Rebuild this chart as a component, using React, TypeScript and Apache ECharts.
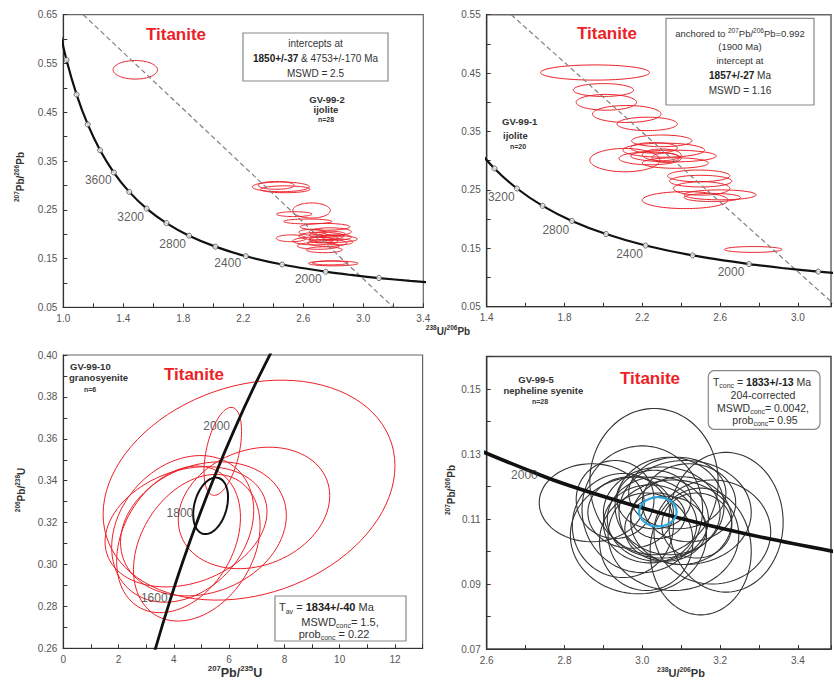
import { useEffect, useRef } from 'react';
import * as echarts from 'echarts';

const FONT = '"Liberation Sans", Arial, Helvetica, sans-serif';
const RED = '#ec1f27';
const INK = '#333';

// Tera-Wasserburg concordia (238U/206Pb vs 207Pb/206Pb), ordered by 238U/206Pb
const twAges = [4600, 4400, 4200, 4000, 3800, 3600, 3400, 3200, 3000, 2800, 2600, 2400, 2200, 2000, 1900, 1800, 1700, 1600];
const twX = [0.9603, 1.0214, 1.0887, 1.163, 1.2453, 1.337, 1.4398, 1.5556, 1.6875, 1.8384, 2.0136, 2.217, 2.4587, 2.749, 2.9174, 3.1045, 3.314, 3.5496];
const twY = [0.6393, 0.5572, 0.4863, 0.425, 0.3721, 0.3264, 0.2867, 0.2524, 0.2227, 0.1968, 0.1744, 0.1548, 0.1378, 0.123, 0.1163, 0.11, 0.1042, 0.0987];
// ages shown as open circles on the curve
const twMarkedAges = [4400, 4200, 4000, 3800, 3600, 3400, 3200, 3000, 2800, 2600, 2400, 2200, 2000, 1800];

// Wetherill concordia (207Pb/235U vs 206Pb/238U)
const wX = [2.97, 3.3813, 3.8346, 4.3348, 4.8868, 5.4963, 6.169, 6.9106, 7.7294];
const wY = [0.2426, 0.262, 0.2817, 0.3018, 0.3221, 0.3428, 0.3638, 0.3851, 0.4067];

// age labels: [x, y, text]
const ageLabels1: [number, number, string][] = [[1.233, 0.311, '3600'], [1.449, 0.235, '3200'], [1.729, 0.179, '2800'], [2.096, 0.14, '2400'], [2.633, 0.109, '2000']];
const ageLabels2: [number, number, string][] = [[1.475, 0.238, '3200'], [1.755, 0.182, '2800'], [2.134, 0.141, '2400'], [2.656, 0.109, '2000']];
const ageLabels3: [number, number, string][] = [[5.55, 0.366, '2000'], [4.22, 0.3247, '1800'], [3.29, 0.284, '1600']];
const ageLabels4: [number, number, string][] = [[2.697, 0.1235, '2000']];

// discordia lines (end points)
const discordia1 = [[1.133, 0.65], [3.2, 0.05]];
const discordia2 = [[1.526, 0.55], [3.2, 0.05]];

// error ellipses: [cx, cy, sx, sy, rho]
const ellipses1 = [
  [1.48, 0.537, 0.148, 0.019, 0],
  [2.45, 0.297, 0.19, 0.01, 0],
  [2.42, 0.3, 0.12, 0.008, 0],
  [2.48, 0.292, 0.165, 0.007, 0],
  [2.655, 0.2485, 0.125, 0.0155, 0],
  [2.54, 0.241, 0.118, 0.005, 0],
  [2.63, 0.226, 0.16, 0.005, 0],
  [2.745, 0.215, 0.165, 0.007, 0],
  [2.78, 0.205, 0.14, 0.008, 0],
  [2.52, 0.1915, 0.1, 0.007, 0],
  [2.72, 0.196, 0.15, 0.008, 0],
  [2.8, 0.19, 0.16, 0.007, 0],
  [2.68, 0.186, 0.15, 0.008, 0],
  [2.76, 0.182, 0.13, 0.007, 0],
  [2.7, 0.176, 0.14, 0.007, 0],
  [2.74, 0.168, 0.12, 0.006, 0],
  [2.78, 0.2, 0.1, 0.006, 0],
  [2.82, 0.194, 0.1, 0.006, 0],
  [2.66, 0.204, 0.09, 0.006, 0],
  [2.76, 0.192, 0.07, 0.005, 0],
  [2.72, 0.188, 0.08, 0.006, 0],
  [2.84, 0.184, 0.09, 0.006, 0],
  [2.7, 0.198, 0.06, 0.005, 0],
  [2.8, 0.14, 0.165, 0.005, 0],
  [2.78, 0.141, 0.12, 0.004, 0],
];
const ellipses2 = [
  [1.957, 0.451, 0.28, 0.013, 0],
  [2.0, 0.421, 0.155, 0.011, 0],
  [2.015, 0.4, 0.155, 0.0135, 0],
  [2.12, 0.38, 0.176, 0.0145, 0],
  [2.225, 0.363, 0.155, 0.0115, 0],
  [2.3, 0.334, 0.155, 0.01, 0],
  [2.11, 0.301, 0.18, 0.02, 0],
  [2.31, 0.318, 0.21, 0.012, 0],
  [2.24, 0.304, 0.16, 0.011, 0],
  [2.36, 0.308, 0.22, 0.01, 0],
  [2.37, 0.296, 0.17, 0.009, 0],
  [2.3, 0.31, 0.1, 0.01, 0],
  [2.32, 0.305, 0.07, 0.008, 0],
  [2.26, 0.322, 0.12, 0.009, 0],
  [2.49, 0.274, 0.16, 0.01, 0],
  [2.5, 0.265, 0.16, 0.01, 0],
  [2.505, 0.2525, 0.145, 0.0115, 0],
  [2.6, 0.2415, 0.185, 0.0085, 0],
  [2.56, 0.237, 0.145, 0.007, 0],
  [2.42, 0.2325, 0.22, 0.0145, 0],
  [2.77, 0.148, 0.148, 0.005, 0],
];
const ellipses3 = [
  [6.72, 0.3355, 5.28, 0.0525, 0.22],
  [5.77, 0.354, 0.68, 0.021, 0.45],
  [6.9, 0.327, 2.74, 0.029, 0.2],
  [4.44, 0.318, 2.93, 0.0287, 0.25],
  [4.32, 0.317, 2.57, 0.035, 0.25],
  [4.17, 0.312, 2.24, 0.035, 0.3],
  [4.83, 0.308, 2.29, 0.035, 0.3],
  [5.07, 0.317, 3.0, 0.032, 0.2],
];
const concordiaAge3 = [[5.33, 0.328, 0.63, 0.0135, 0.3]];
const ellipses4 = [
  [3.03, 0.1215, 0.165, 0.0225, 0],
  [2.87, 0.115, 0.135, 0.012, 0],
  [3.215, 0.109, 0.147, 0.0215, 0],
  [2.99, 0.105, 0.175, 0.018, 0],
  [3.15, 0.1, 0.13, 0.0195, 0],
  [3.08, 0.105, 0.168, 0.017, 0],
  [3.0, 0.113, 0.155, 0.0195, 0],
  [3.05, 0.112, 0.15, 0.014, 0],
  [3.04, 0.11, 0.13, 0.013, 0],
  [3.07, 0.114, 0.14, 0.015, 0],
  [3.02, 0.1085, 0.12, 0.012, 0],
  [3.1, 0.1095, 0.13, 0.0135, 0],
  [2.97, 0.112, 0.11, 0.011, 0],
  [3.06, 0.107, 0.105, 0.01, 0],
  [3.12, 0.115, 0.12, 0.012, 0],
  [3.03, 0.116, 0.095, 0.009, 0],
  [2.95, 0.108, 0.13, 0.016, 0],
  [3.18, 0.106, 0.15, 0.016, 0],
  [3.09, 0.118, 0.125, 0.011, 0],
  [3.01, 0.103, 0.12, 0.015, 0],
  [3.11, 0.112, 0.17, 0.016, 0],
  [3.04, 0.111, 0.07, 0.007, 0],
  [2.93, 0.116, 0.1, 0.012, 0],
  [3.14, 0.108, 0.09, 0.01, 0],
];
const concordiaAge4 = [[3.04, 0.1122, 0.048, 0.0045, 0]];

// tick labels
const xTicks1 = [1.0, 1.4, 1.8, 2.2, 2.6, 3.0, 3.4];
const yTicks1 = [0.05, 0.15, 0.25, 0.35, 0.45, 0.55, 0.65];
const xTicks2 = [1.4, 1.8, 2.2, 2.6, 3.0];
const yTicks2 = [0.05, 0.15, 0.25, 0.35, 0.45, 0.55];
const xTicks3 = [0, 2, 4, 6, 8, 10, 12];
const yTicks3 = [0.26, 0.28, 0.3, 0.32, 0.34, 0.36, 0.38, 0.4];
const xTicks4 = [2.6, 2.8, 3.0, 3.2, 3.4];
const yTicks4 = [0.07, 0.09, 0.11, 0.13, 0.15];

const twLine = twX.map((x, i) => [x, twY[i]]);
const twMarks = twAges.map((a, i) => [twX[i], twY[i], a]).filter((p) => twMarkedAges.includes(p[2] as number));
const wLine = wX.map((x, i) => [x, wY[i]]);

function axis(gi: number, min: number, max: number, interval: number, labels: number[], dec: number) {
  return {
    type: 'value',
    gridIndex: gi,
    min,
    max,
    interval,
    axisLine: { show: true, onZero: false, lineStyle: { color: '#333', width: 1.2 } },
    axisTick: { show: true, inside: true, length: 4, lineStyle: { color: '#333' } },
    splitLine: { show: false },
    axisLabel: {
      fontSize: 10,
      color: '#555',
      fontFamily: FONT,
      margin: 6,
      formatter: (v: number) => (labels.some((l) => Math.abs(l - v) < 1e-6) ? v.toFixed(dec) : ''),
    },
  };
}

function ellipseSeries(gi: number, data: number[][], color: string, width: number, z: number) {
  return {
    type: 'custom',
    coordinateSystem: 'cartesian2d',
    xAxisIndex: gi,
    yAxisIndex: gi,
    clip: true,
    silent: true,
    z,
    data,
    encode: { x: 0, y: 1 },
    renderItem: (_p: any, api: any) => {
      const cx = api.value(0), cy = api.value(1), sx = api.value(2), sy = api.value(3), r = api.value(4) || 0;
      const k = Math.sqrt(1 - r * r);
      const pts: number[][] = [];
      for (let i = 0; i < 90; i++) {
        const t = (i / 90) * Math.PI * 2;
        pts.push(api.coord([cx + sx * Math.cos(t), cy + sy * (r * Math.cos(t) + k * Math.sin(t))]));
      }
      return { type: 'polygon', shape: { points: pts }, style: { fill: 'none', stroke: color, lineWidth: width } };
    },
  };
}

function curve(gi: number, data: number[][], width: number) {
  return {
    type: 'line', xAxisIndex: gi, yAxisIndex: gi, data, smooth: 0.3, showSymbol: false, silent: true, z: 5,
    lineStyle: { color: '#111', width }, clip: true,
  };
}

function dashed(gi: number, data: number[][]) {
  return {
    type: 'line', xAxisIndex: gi, yAxisIndex: gi, data, showSymbol: false, silent: true, z: 4,
    lineStyle: { color: '#808080', width: 1.2, type: [5, 3] }, clip: true,
  };
}

function marks(gi: number) {
  return {
    type: 'scatter', xAxisIndex: gi, yAxisIndex: gi, data: twMarks, symbol: 'circle', symbolSize: 5, silent: true, z: 6,
    itemStyle: { color: '#fff', borderColor: '#444', borderWidth: 1 }, clip: true,
  };
}

function labels(gi: number, data: [number, number, string][]) {
  return {
    type: 'scatter', xAxisIndex: gi, yAxisIndex: gi, data, symbolSize: 1, silent: true, z: 7,
    itemStyle: { color: 'rgba(0,0,0,0)' },
    label: { show: true, position: 'inside', formatter: (p: any) => p.value[2], color: '#333', fontSize: 12, fontFamily: FONT },
  };
}

type TOpts = { size?: number; bold?: boolean; color?: string; align?: string; rot?: number; rich?: any };
function txt(x: number, y: number, text: string, o: TOpts = {}) {
  return {
    type: 'text', x, y, z: 100, silent: true, rotation: o.rot ?? 0,
    style: {
      text, fontFamily: FONT, fontSize: o.size ?? 10, fontWeight: o.bold ? 'bold' : 'normal',
      fill: o.color ?? INK, align: o.align ?? 'center', verticalAlign: 'middle', rich: o.rich,
    },
  };
}
function box(x: number, y: number, w: number, h: number, r = 0) {
  return { type: 'rect', z: 90, silent: true, shape: { x, y, width: w, height: h, r }, style: { fill: '#fff', stroke: '#888', lineWidth: 1.2 } };
}

// rich styles: n = normal, b = bold, s = subscript, u = superscript
const rich = (size: number, boldAll = false) => ({
  n: { fontFamily: FONT, fontSize: size, fontWeight: boldAll ? 'bold' : 'normal', fill: INK, lineHeight: size + 4 },
  b: { fontFamily: FONT, fontSize: size, fontWeight: 'bold', fill: '#222', lineHeight: size + 4 },
  s: { fontFamily: FONT, fontSize: 7, fill: INK, lineHeight: size + 4, verticalAlign: 'bottom' },
  u: { fontFamily: FONT, fontSize: Math.max(6.5, size * 0.62), fontWeight: boldAll ? 'bold' : 'normal', fill: INK, lineHeight: size + 4, verticalAlign: 'top' },
});
const ratio = (a: string, b: string, c: string, d: string) => `{u|${a}}{n|${b}/}{u|${c}}{n|${d}}`;

export default function App() {
  const ref = useRef<HTMLDivElement>(null);
  useEffect(() => {
    if (!ref.current) return;
    const chart = echarts.init(ref.current, undefined, { renderer: 'svg' });
    const option: any = {
      animation: false,
      backgroundColor: '#fff',
      textStyle: { fontFamily: FONT },
      grid: [
        { left: 63.3, top: 14.7, width: 360, height: 292.6, show: true, borderColor: '#666', borderWidth: 1.2 },
        { left: 486.7, top: 14.7, width: 352.3, height: 292, show: true, borderColor: '#666', borderWidth: 1.5 },
        { left: 63.3, top: 355, width: 359.3, height: 293.3, show: true, borderColor: '#666', borderWidth: 1.2 },
        { left: 486.7, top: 356.5, width: 352.3, height: 292.5, show: true, borderColor: '#444', borderWidth: 1.5 },
      ],
      xAxis: [
        axis(0, 1.0, 3.4, 0.2, xTicks1, 1),
        axis(1, 1.4, 3.17, 0.2, xTicks2, 1),
        axis(2, 0, 13, 1, xTicks3, 0),
        axis(3, 2.6, 3.485, 0.1, xTicks4, 1),
      ],
      yAxis: [
        axis(0, 0.05, 0.65, 0.05, yTicks1, 2),
        axis(1, 0.05, 0.55, 0.05, yTicks2, 2),
        axis(2, 0.26, 0.4, 0.01, yTicks3, 2),
        axis(3, 0.07, 0.16, 0.01, yTicks4, 2),
      ],
      series: [
        ellipseSeries(0, ellipses1, RED, 1, 2),
        dashed(0, discordia1),
        curve(0, twLine, 2.2),
        marks(0),
        labels(0, ageLabels1),

        ellipseSeries(1, ellipses2, RED, 1, 2),
        dashed(1, discordia2),
        curve(1, twLine, 2.2),
        marks(1),
        labels(1, ageLabels2),

        ellipseSeries(2, ellipses3, RED, 1, 2),
        curve(2, wLine, 2.8),
        ellipseSeries(2, concordiaAge3, '#111', 2, 6),
        labels(2, ageLabels3),

        ellipseSeries(3, ellipses4, '#333', 1.1, 2),
        curve(3, twLine, 3.6),
        ellipseSeries(3, concordiaAge4, '#2aa7df', 2.2, 8),
        labels(3, ageLabels4),
      ],
      graphic: [
        // top-left panel
        txt(176, 34, 'Titanite', { size: 17, bold: true, color: RED }),
        box(243, 33, 145, 48),
        txt(315.5, 43, 'intercepts at', { size: 10 }),
        txt(315.5, 58, '{b|1850+/-37}{n| & 4753+/-170 Ma}', { rich: rich(10) }),
        txt(315.5, 73, 'MSWD = 2.5', { size: 10 }),
        txt(327, 99, 'GV-99-2', { size: 9.5, bold: true }),
        txt(326, 109.5, 'ijolite', { size: 9.5, bold: true }),
        txt(326, 119.5, 'n=28', { size: 7, bold: true }),
        txt(20, 177, ratio('207', 'Pb', '206', 'Pb'), { rot: Math.PI / 2, rich: rich(10, true) }),
        txt(448, 331, ratio('238', 'U', '206', 'Pb'), { rich: rich(10, true) }),

        // top-right panel
        txt(607, 33, 'Titanite', { size: 17, bold: true, color: RED }),
        box(666, 18.3, 148, 86.7),
        txt(740, 33.5, `{n|anchored to }${ratio('207', 'Pb', '206', 'Pb=0.992')}`, { rich: rich(9.5) }),
        txt(740, 46.7, '(1900 Ma)', { size: 9.5 }),
        txt(740, 60, 'intercept at', { size: 9.5 }),
        txt(740, 75, '{b|1857+/-27}{n| Ma}', { rich: rich(10) }),
        txt(740, 90, 'MSWD = 1.16', { size: 10 }),
        txt(502, 121.7, 'GV-99-1', { size: 9.5, bold: true, align: 'left' }),
        txt(503, 135, 'ijolite', { size: 9.5, bold: true, align: 'left' }),
        txt(510, 146.7, 'n=20', { size: 7, bold: true, align: 'left' }),

        // bottom-left panel
        txt(194, 374, 'Titanite', { size: 17, bold: true, color: RED }),
        txt(70, 366.7, 'GV-99-10', { size: 9.5, bold: true, align: 'left' }),
        txt(69, 377.5, 'granosyenite', { size: 9.5, bold: true, align: 'left' }),
        txt(84, 389, 'n=6', { size: 7, bold: true, align: 'left' }),
        box(275, 596, 131, 45),
        txt(279, 607, '{n|T}{s|av}{n| = }{b|1834+/-40}{n| Ma}', { align: 'left', rich: rich(11) }),
        txt(340, 621.5, '{n|MSWD}{s|conc}{n|= 1.5,}', { rich: rich(11) }),
        txt(334, 633.5, '{n|prob}{s|conc}{n| = 0.22}', { rich: rich(11) }),
        txt(21, 490, ratio('206', 'Pb', '238', 'U'), { rot: Math.PI / 2, rich: rich(10, true) }),
        txt(235, 673, ratio('207', 'Pb', '235', 'U'), { rich: rich(12.5, true) }),

        // bottom-right panel
        txt(650, 378, 'Titanite', { size: 17, bold: true, color: RED }),
        txt(536, 379.3, 'GV-99-5', { size: 9.5, bold: true }),
        txt(543.3, 390.7, 'nepheline syenite', { size: 9.5, bold: true }),
        txt(540, 401.7, 'n=28', { size: 7, bold: true }),
        box(708.3, 370.7, 111.7, 58.6, 6),
        txt(762, 381.7, '{n|T}{s|conc}{n| = }{b|1833+/-13}{n| Ma}', { rich: rich(10.5) }),
        txt(763, 395, '204-corrected', { size: 10.5 }),
        txt(763, 407.5, '{n|MSWD}{s|conc}{n|= 0.0042,}', { rich: rich(10.5) }),
        txt(765, 420, '{n|prob}{s|conc}{n|= 0.95}', { rich: rich(10.5) }),
        txt(451, 490, ratio('207', 'Pb', '206', 'Pb'), { rot: Math.PI / 2, rich: rich(10, true) }),
        txt(681, 673, ratio('238', 'U', '206', 'Pb'), { rich: rich(11, true) }),
      ],
    };
    chart.setOption(option);
    return () => chart.dispose();
  }, []);
  return (
    <div
      ref={ref}
      style={{ position: 'fixed', left: 0, top: 0, width: 834, height: 680, background: '#fff' }}
    />
  );
}
